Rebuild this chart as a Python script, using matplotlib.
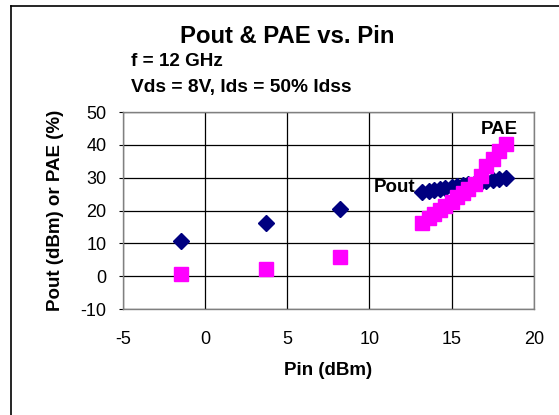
import matplotlib
matplotlib.use('Agg')
import matplotlib.pyplot as plt
from matplotlib.lines import Line2D

plt.rcParams['font.family'] = ['Liberation Sans', 'DejaVu Sans']
plt.rcParams['axes.unicode_minus'] = False

# Pin (dBm)
pin = [-1.5, 3.7, 8.2, 13.2, 13.6, 13.9, 14.3, 14.6, 15.0, 15.3, 15.7,
       16.0, 16.4, 16.8, 17.1, 17.5, 17.9, 18.3]
# Pout (dBm)
pout = [10.8, 16.1, 20.5, 25.7, 26.0, 26.3, 26.6, 26.9, 27.2, 27.5, 27.8,
        28.1, 28.4, 28.8, 29.1, 29.4, 29.7, 30.0]
# PAE (%)
pae = [0.8, 2.1, 5.7, 16.3, 17.8, 19.0, 20.3, 21.5, 22.7, 24.0, 25.2,
       26.6, 28.0, 30.6, 33.6, 35.6, 38.0, 40.2]

xticks = [-5, 0, 5, 10, 15, 20]
yticks = [-10, 0, 10, 20, 30, 40, 50]

fig = plt.figure(figsize=(5.59, 4.15), dpi=100)
ax = fig.add_axes([0.22, 0.2554, 0.735, 0.4746])

ax.plot(pin, pout, linestyle='none', marker='D', markersize=8.5,
        color='#000080', zorder=3)
ax.plot(pin, pae, linestyle='none', marker='s', markersize=10,
        color='#FF00FF', zorder=3)

ax.set_xlim(-5, 20)
ax.set_ylim(-10, 50)
ax.set_xticks(xticks)
ax.set_yticks(yticks)
ax.grid(True, color='#000000', linewidth=0.9)
ax.set_axisbelow(True)
for s in ax.spines.values():
    s.set_color('#808080')
    s.set_linewidth(1)
ax.tick_params(axis='both', labelsize=13, length=3, color='#000000')
ax.tick_params(axis='x', pad=16, length=0)
ax.tick_params(axis='y', pad=9)

ax.set_xlabel('Pin (dBm)', fontsize=13.5, fontweight='bold', labelpad=10)
ax.set_ylabel('Pout (dBm) or PAE (%)', fontsize=13.5, fontweight='bold', labelpad=12)

ax.text(12.8, 27.1, 'Pout', fontsize=13.5, fontweight='bold',
        ha='right', va='center')
ax.text(17.9, 44.6, 'PAE', fontsize=13.5, fontweight='bold',
        ha='center', va='center')

fig.text(0.514, 0.913, 'Pout & PAE vs. Pin', fontsize=17.2, fontweight='bold',
         ha='center', va='center')
fig.text(0.235, 0.851, 'f = 12 GHz', fontsize=13.6, fontweight='bold',
         ha='left', va='center')
fig.text(0.235, 0.788, 'Vds = 8V, Ids = 50% Idss', fontsize=13.8,
         fontweight='bold', ha='left', va='center')

# chart border (top and left edges visible)
fig.add_artist(Line2D([0.019, 0.019], [0.0, 0.986], color='black', linewidth=1.2))
fig.add_artist(Line2D([0.019, 1.0], [0.986, 0.986], color='black', linewidth=1.2))

fig.savefig('out.png', dpi=100)
